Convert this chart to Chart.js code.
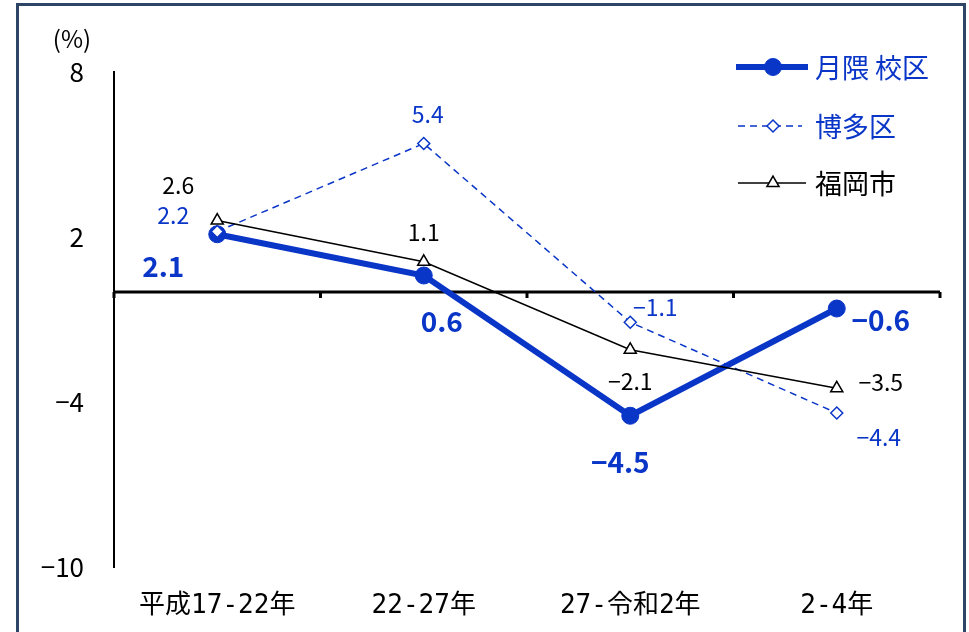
<!DOCTYPE html>
<html>
<head>
<meta charset="utf-8">
<script src="https://cdn.jsdelivr.net/npm/chart.js@4/dist/chart.umd.min.js"></script>
<style>
    html, body { margin: 0; padding: 0; background: #fff; overflow: hidden; }
    #wrap { position: relative; width: 969px; height: 632px; }
    #frame {
        position: absolute; left: 16px; top: 3px; width: 944px; height: 660px;
        border: 3px solid #2d4668; pointer-events: none;
    }
</style>
</head>
<body>
<div id="wrap">
    <canvas id="rateChart" width="969" height="632"></canvas>
    <div id="frame"></div>
</div>
<script>
// 人口増減率の推移 (%)
const categories = ['平成17-22年', '22-27年', '27-令和2年', '2-4年'];
const tsukigumaValues = [2.1, 0.6, -4.5, -0.6];
const hakataValues = [2.2, 5.4, -1.1, -4.4];
const fukuokaValues = [2.6, 1.1, -2.1, -3.5];
const yTickValues = [8, 2, -4, -10];

const BLUE = '#0a36c8';
const JP = "'Noto Sans CJK JP', 'Noto Sans', sans-serif";

// label offsets from each point (px)
const labelOffsets = [
    [[-54, 32], [18, 46], [-10, 47], [44, 12]],
    [[-44, -16], [4, -29], [25, -15], [42, 24]],
    [[-39, -35], [0, -29], [0, 32], [44, -6]],
];
const labelFonts = ['bold 28px ' + JP, '23px ' + JP, '23px ' + JP];

function fmt(v) {
    return v < 0 ? '\u2212' + Math.abs(v).toFixed(1) : v.toFixed(1);
}

const chartDecor = {
    id: 'chartDecor',
    beforeDatasetsDraw(chart) {
        const { ctx, chartArea, scales } = chart;
        const y0 = scales.y.getPixelForValue(0);
        const n = categories.length;
        const step = (chartArea.right - chartArea.left) / n;
        ctx.save();
        ctx.strokeStyle = '#000';
        ctx.lineWidth = 3;
        ctx.beginPath();
        ctx.moveTo(chartArea.left, y0);
        ctx.lineTo(chartArea.right, y0);
        for (let i = 0; i <= n; i++) {
            const x = chartArea.left + i * step;
            ctx.moveTo(x, y0);
            ctx.lineTo(x, y0 + 6);
        }
        ctx.stroke();
        ctx.restore();
    },
    afterDatasetsDraw(chart) {
        const { ctx } = chart;
        ctx.save();
        ctx.textAlign = 'center';
        ctx.textBaseline = 'middle';
        chart.data.datasets.forEach((ds, di) => {
            const meta = chart.getDatasetMeta(di);
            ctx.font = labelFonts[di];
            ctx.fillStyle = di === 2 ? '#000' : BLUE;
            meta.data.forEach((pt, i) => {
                const off = labelOffsets[di][i];
                ctx.fillText(fmt(ds.data[i]), pt.x + off[0], pt.y + off[1]);
            });
        });

        // unit
        ctx.font = '24px ' + JP;
        ctx.fillStyle = '#000';
        ctx.fillText('(%)', 72, 39);

        // legend
        const items = [{ y: 67, x1: 736, x2: 808 }, { y: 126, x1: 738, x2: 802 }, { y: 183, x1: 738, x2: 806 }];
        chart.data.datasets.forEach((ds, di) => {
            const it = items[di];
            const mx = 773;
            ctx.strokeStyle = ds.borderColor;
            ctx.lineWidth = ds.borderWidth;
            ctx.setLineDash(ds.borderDash || []);
            ctx.beginPath();
            ctx.moveTo(it.x1, it.y);
            ctx.lineTo(it.x2, it.y);
            ctx.stroke();
            ctx.setLineDash([]);
            ctx.fillStyle = ds.pointBackgroundColor;
            ctx.strokeStyle = ds.pointBorderColor;
            ctx.lineWidth = ds.pointBorderWidth;
            Chart.helpers.drawPoint(ctx, {
                pointStyle: ds.pointStyle, radius: ds.pointRadius,
                borderWidth: ds.pointBorderWidth, rotation: 0,
            }, mx, it.y);
            ctx.font = '27px ' + JP;
            ctx.textAlign = 'left';
            ctx.fillStyle = di === 2 ? '#000' : BLUE;
            ctx.fillText(ds.label, 815, it.y + 1);
        });
        ctx.restore();
    },
};

new Chart(document.getElementById('rateChart'), {
    type: 'line',
    data: {
        labels: categories,
        datasets: [
            {
                label: '月隈 校区',
                data: tsukigumaValues,
                borderColor: BLUE,
                borderWidth: 6,
                pointStyle: 'circle',
                pointRadius: 8.5,
                pointBackgroundColor: BLUE,
                pointBorderColor: BLUE,
                pointBorderWidth: 1,
                order: 3,
            },
            {
                label: '博多区',
                data: hakataValues,
                borderColor: BLUE,
                borderWidth: 1.5,
                borderDash: [7, 5],
                pointStyle: 'rectRot',
                pointRadius: 6,
                pointBackgroundColor: '#fff',
                pointBorderColor: BLUE,
                pointBorderWidth: 1.5,
                order: 2,
            },
            {
                label: '福岡市',
                data: fukuokaValues,
                borderColor: '#000',
                borderWidth: 1.5,
                pointStyle: 'triangle',
                pointRadius: 7,
                pointBackgroundColor: '#fff',
                pointBorderColor: '#000',
                pointBorderWidth: 1.5,
                order: 1,
            },
        ],
    },
    options: {
        responsive: false,
        animation: false,
        layout: { padding: { top: 72, right: 29, bottom: 0, left: 0 } },
        plugins: {
            legend: { display: false },
            tooltip: { enabled: false },
        },
        scales: {
            y: {
                min: -10,
                max: 8,
                afterBuildTicks: (scale) => { scale.ticks = yTickValues.map(v => ({ value: v })); },
                afterFit: (scale) => { scale.width = 114; },
                grid: { display: false },
                border: { color: '#000', width: 2 },
                ticks: {
                    padding: 22,
                    color: '#000',
                    font: { size: 26, family: JP },
                    callback: (v) => (v < 0 ? '\u2212' + Math.abs(v) : String(v)),
                },
            },
            x: {
                offset: true,
                afterFit: (scale) => { scale.height = 65; },
                grid: { display: false },
                border: { display: false },
                ticks: {
                    padding: 16,
                    color: '#000',
                    maxRotation: 0,
                    font: { size: 26, family: "'DejaVu Sans Mono', 'Noto Sans CJK JP', monospace" },
                },
            },
        },
    },
    plugins: [chartDecor],
});
</script>
</body>
</html>
